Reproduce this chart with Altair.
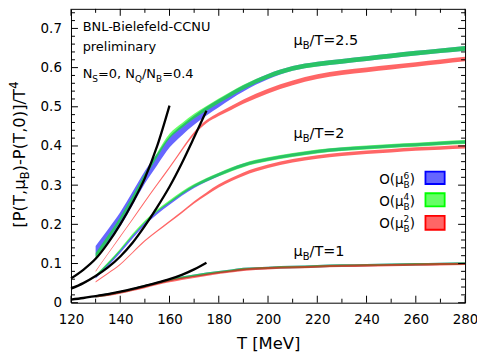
import altair as alt
import pandas as pd

FONT = "DejaVu Sans"

# ---------------- data ----------------
T = [130, 135, 140, 145, 150, 155, 160, 165, 170, 175, 180, 185, 190,
     200, 210, 220, 230, 240, 250, 260, 270, 280]

# mu_B/T = 2.5
o6_25 = [0.131, 0.171, 0.213, 0.266, 0.320, 0.366, 0.410, 0.440, 0.466, 0.489, 0.509, 0.529, 0.547,
         0.577, 0.598, 0.609, 0.616, 0.623, 0.630, 0.637, 0.643, 0.649]
o6_25_err = [0.014, 0.016, 0.018, 0.017, 0.016, 0.015, 0.014, 0.013, 0.012, 0.011, 0.010, 0.009, 0.008,
             0.007, 0.006, 0.006, 0.006, 0.006, 0.006, 0.006, 0.006, 0.006]
o4_25 = [0.119, 0.165, 0.213, 0.267, 0.324, 0.377, 0.425, 0.452, 0.476, 0.496, 0.515, 0.533, 0.550,
         0.578, 0.598, 0.609, 0.616, 0.623, 0.630, 0.637, 0.643, 0.649]
o4_25_err = [0.008, 0.007, 0.006, 0.006, 0.006, 0.006, 0.006, 0.006, 0.006, 0.006, 0.006, 0.006, 0.006,
             0.006, 0.006, 0.006, 0.006, 0.006, 0.006, 0.006, 0.006, 0.006]
o2_25 = [0.080, 0.125, 0.169, 0.213, 0.258, 0.302, 0.345, 0.390, 0.432, 0.462, 0.481, 0.497, 0.513,
         0.540, 0.561, 0.577, 0.587, 0.594, 0.601, 0.608, 0.615, 0.622]
o2_25_err = [0.0015, 0.0015, 0.0017, 0.002, 0.002, 0.0022, 0.0025, 0.003, 0.0035, 0.004, 0.0045, 0.005, 0.0055,
             0.006, 0.006, 0.006, 0.006, 0.006, 0.006, 0.006, 0.006, 0.006]

# mu_B/T = 2
o6_2 = [0.066, 0.097, 0.131, 0.168, 0.202, 0.230, 0.254, 0.277, 0.297, 0.313, 0.327, 0.340, 0.351,
        0.366, 0.377, 0.386, 0.392, 0.396, 0.400, 0.403, 0.407, 0.410]
o6_2_err = [0.004, 0.004, 0.004, 0.004, 0.004, 0.004, 0.004, 0.004, 0.004, 0.004, 0.004, 0.004, 0.004,
            0.004, 0.004, 0.004, 0.004, 0.004, 0.004, 0.004, 0.004, 0.004]
o4_2 = [0.068, 0.100, 0.135, 0.173, 0.207, 0.235, 0.258, 0.280, 0.299, 0.314, 0.327, 0.340, 0.351,
        0.366, 0.377, 0.386, 0.392, 0.396, 0.400, 0.403, 0.407, 0.410]
o4_2_err = [0.003, 0.003, 0.003, 0.003, 0.003, 0.003, 0.0035, 0.004, 0.004, 0.0045, 0.0045, 0.005, 0.005,
            0.005, 0.005, 0.005, 0.005, 0.005, 0.005, 0.005, 0.005, 0.005]
o2_2 = [0.053, 0.075, 0.098, 0.128, 0.158, 0.183, 0.207, 0.231, 0.256, 0.278, 0.298, 0.314, 0.328,
        0.348, 0.362, 0.372, 0.379, 0.384, 0.388, 0.392, 0.395, 0.398]
o2_2_err = [0.0015, 0.0015, 0.0015, 0.0017, 0.002, 0.002, 0.0022, 0.0025, 0.003, 0.0035, 0.004, 0.004, 0.0045,
            0.0045, 0.0045, 0.0045, 0.0045, 0.0045, 0.0045, 0.0045, 0.0045, 0.0045]

# mu_B/T = 1
o6_1 = [0.016, 0.021, 0.027, 0.034, 0.042, 0.050, 0.058, 0.064, 0.069, 0.074, 0.078, 0.082, 0.086,
        0.089, 0.091, 0.093, 0.095, 0.096, 0.097, 0.098, 0.099, 0.100]
o4_1 = [0.016, 0.021, 0.027, 0.034, 0.042, 0.050, 0.058, 0.064, 0.069, 0.074, 0.078, 0.082, 0.086,
        0.089, 0.091, 0.093, 0.095, 0.096, 0.097, 0.098, 0.099, 0.100]
o2_1 = [0.016, 0.020, 0.026, 0.033, 0.040, 0.048, 0.055, 0.061, 0.066, 0.071, 0.076, 0.080, 0.084,
        0.088, 0.090, 0.092, 0.094, 0.095, 0.096, 0.097, 0.098, 0.099]
err_1 = [0.003, 0.003, 0.003, 0.003, 0.003, 0.003, 0.003, 0.003, 0.003, 0.003, 0.003, 0.003, 0.003,
         0.003, 0.003, 0.003, 0.003, 0.003, 0.003, 0.003, 0.003, 0.003]

# black curves
T_hrg_a = [120, 125, 130, 135, 140, 145, 150, 155, 160]
hrg_25 = [0.062, 0.084, 0.112, 0.152, 0.200, 0.255, 0.318, 0.400, 0.503]
T_hrg_b = [120, 125, 130, 135, 140, 145, 150, 155, 160, 165, 170, 175]
hrg_2 = [0.036, 0.050, 0.068, 0.090, 0.118, 0.153, 0.196, 0.244, 0.296, 0.356, 0.422, 0.490]
hrg_1 = [0.008, 0.012, 0.017, 0.022, 0.028, 0.035, 0.043, 0.051, 0.060, 0.071, 0.085, 0.102]

x_major = [120, 140, 160, 180, 200, 220, 240, 260, 280]
x_minor = [130, 150, 170, 190, 210, 230, 250, 270]
y_major = [0.0, 0.1, 0.2, 0.3, 0.4, 0.5, 0.6, 0.7]
y_minor = [0.02, 0.04, 0.06, 0.08, 0.12, 0.14, 0.16, 0.18, 0.22, 0.24, 0.26, 0.28,
           0.32, 0.34, 0.36, 0.38, 0.42, 0.44, 0.46, 0.48, 0.52, 0.54, 0.56, 0.58,
           0.62, 0.64, 0.66, 0.68, 0.72, 0.74]

# ---------------- tables ----------------
def band_rows(order, mu, vals, errs):
    return [{"order": order, "mu": mu, "T": t, "lo": v - e, "hi": v + e}
            for t, v, e in zip(T, vals, errs)]

rows = []
rows += band_rows("O6", "2.5", o6_25, o6_25_err)
rows += band_rows("O6", "2", o6_2, o6_2_err)
rows += band_rows("O6", "1", o6_1, err_1)
rows += band_rows("O4", "2.5", o4_25, o4_25_err)
rows += band_rows("O4", "2", o4_2, o4_2_err)
rows += band_rows("O4", "1", o4_1, err_1)
rows += band_rows("O2", "2.5", o2_25, o2_25_err)
rows += band_rows("O2", "2", o2_2, o2_2_err)
rows += band_rows("O2", "1", o2_1, err_1)
bands = pd.DataFrame(rows)

hrg = pd.DataFrame(
    [{"mu": "2.5", "T": t, "v": v} for t, v in zip(T_hrg_a, hrg_25)]
    + [{"mu": "2", "T": t, "v": v} for t, v in zip(T_hrg_b, hrg_2)]
    + [{"mu": "1", "T": t, "v": v} for t, v in zip(T_hrg_b, hrg_1)]
)

W, H = 396, 295.3
xs = alt.Scale(domain=[120, 280], nice=False, zero=False)
ys = alt.Scale(domain=[0, 0.75], nice=False, zero=False)

x_axis = alt.Axis(values=x_major, title="", ticks=False, tickSize=0, domain=False, grid=False,
                  labelPadding=10, labelFlush=False, labelOverlap=False,
                  labelFont=FONT, labelFontSize=13.5, labelColor="black")
y_axis = alt.Axis(values=y_major, title="", ticks=False, tickSize=0, domain=False, grid=False,
                  labelPadding=9.6, labelFlush=False, labelOverlap=False, format=".1~f",
                  labelFont=FONT, labelFontSize=13.5, labelColor="black")

COLORS = {"O6": "#0000ff", "O4": "#00ff00", "O2": "#ff0000"}

layers = []
for order in ["O6", "O4", "O2"]:
    sub = bands[bands["order"] == order]
    layers.append(
        alt.Chart(sub).mark_area(color=COLORS[order], opacity=0.6, interpolate="monotone").encode(
            x=alt.X("T:Q", scale=xs, axis=x_axis),
            y=alt.Y("lo:Q", scale=ys, axis=y_axis),
            y2="hi:Q",
            detail="mu:N",
        )
    )

layers.append(
    alt.Chart(hrg).mark_line(color="black", strokeWidth=2.3, interpolate="monotone").encode(
        x=alt.X("T:Q", scale=xs, axis=x_axis),
        y=alt.Y("v:Q", scale=ys, axis=y_axis),
        detail="mu:N",
    )
)

# ticks (inward, mirrored)
def xticks(vals, length):
    d = pd.DataFrame({"T": vals})
    bot = alt.Chart(d).mark_rule(color="black", strokeWidth=1).encode(
        x=alt.X("T:Q", scale=xs, axis=x_axis), y=alt.value(H), y2=alt.value(H - length))
    top = alt.Chart(d).mark_rule(color="black", strokeWidth=1).encode(
        x=alt.X("T:Q", scale=xs, axis=x_axis), y=alt.value(0), y2=alt.value(length))
    return [bot, top]

def yticks(vals, length):
    d = pd.DataFrame({"lo": vals})
    left = alt.Chart(d).mark_rule(color="black", strokeWidth=1).encode(
        y=alt.Y("lo:Q", scale=ys, axis=y_axis), x=alt.value(0), x2=alt.value(length))
    right = alt.Chart(d).mark_rule(color="black", strokeWidth=1).encode(
        y=alt.Y("lo:Q", scale=ys, axis=y_axis), x=alt.value(W), x2=alt.value(W - length))
    return [left, right]

layers += xticks(x_major, 7) + xticks(x_minor, 4) + yticks(y_major, 7) + yticks(y_minor, 4)

# ---------------- text helpers ----------------
W_EM = {'[': 0.390, ']': 0.390, '(': 0.390, ')': 0.390, 'P': 0.603, 'T': 0.611, ',': 0.318,
        'μ': 0.636, 'B': 0.686, '-': 0.361, '/': 0.337, '=': 0.838, '.': 0.318, 'O': 0.787,
        'N': 0.748, 'S': 0.635, 'Q': 0.787, ' ': 0.318}
for dch in "0123456789":
    W_EM[dch] = 0.636


def tw(s, size):
    return sum(W_EM.get(c, 0.6) for c in s) * size


def text_layer(s, x, y, size, align="left", angle=None):
    kw = dict(text=s, align=align, baseline="alphabetic", font=FONT, fontSize=size, color="black")
    if angle is not None:
        kw["angle"] = angle
    return alt.Chart(alt.Data(values=[{}])).mark_text(**kw).encode(x=alt.value(x), y=alt.value(y))


def rich_h(pieces, x, y, size, small, sub_dy, sup_dy):
    out = []
    cx = x
    for txt, kind in pieces:
        if kind == "n":
            out.append(text_layer(txt, cx, y, size))
            cx += tw(txt, size)
        elif kind == "sub":
            out.append(text_layer(txt, cx, y + sub_dy, small))
            cx += tw(txt, small)
        elif kind == "sup":
            out.append(text_layer(txt, cx, y + sup_dy, small))
            cx += tw(txt, small)
        else:
            sb, sp = txt
            out.append(text_layer(sb, cx, y + sub_dy, small))
            out.append(text_layer(sp, cx, y + sup_dy, small))
            cx += max(tw(sb, small), tw(sp, small))
    return out


def rich_width(pieces, size, small):
    w = 0
    for txt, kind in pieces:
        if kind == "n":
            w += tw(txt, size)
        elif kind in ("sub", "sup"):
            w += tw(txt, small)
        else:
            w += max(tw(txt[0], small), tw(txt[1], small))
    return w


def rich_v(pieces, x, y, size, small, sub_dx, sup_dx):
    out = []
    cy = y
    for txt, kind in pieces:
        if kind == "n":
            out.append(text_layer(txt, x, cy, size, angle=270))
            cy -= tw(txt, size)
        elif kind == "sub":
            out.append(text_layer(txt, x + sub_dx, cy, small, angle=270))
            cy -= tw(txt, small)
        else:
            out.append(text_layer(txt, x + sup_dx, cy, small, angle=270))
            cy -= tw(txt, small)
    return out

# annotations
layers.append(text_layer("BNL-Bielefeld-CCNU", 11.7, 22, 13))
layers.append(text_layer("preliminary", 11.7, 42, 13))
layers += rich_h([("N", "n"), ("S", "sub"), ("=0, N", "n"), ("Q", "sub"), ("/N", "n"),
                  ("B", "sub"), ("=0.4", "n")], 11.7, 70, 13, 9, 3.5, -6)

for lab, yb in [("2.5", 36.3), ("2", 129.7), ("1", 248)]:
    layers += rich_h([("μ", "n"), ("B", "sub"), ("/T=" + lab, "n")], 223.7, yb, 14.5, 10, 4, -6)

# y-axis title
layers += rich_v([("[P(T,μ", "n"), ("B", "sub"), (")-P(T,0)]/T", "n"), ("4", "sup")],
                 -45.8, 220, 16.5, 11.5, 3.5, -7.5)
# x-axis title
layers.append(text_layer("T [MeV]", 198.7, 341.5, 16.5, align="center"))

# legend
leg = [("6", "#0000ff", 176.5, 163.5, 176.0),
       ("4", "#00ff00", 198.5, 185.3, 198.5),
       ("2", "#ff0000", 220.5, 208.0, 222.0)]
for power, col, yb, y1, y2 in leg:
    pcs = [("O(μ", "n"), (("B", power), "subsup"), (")", "n")]
    wdt = rich_width(pcs, 13.5, 9)
    layers += rich_h(pcs, 345.7 - wdt, yb, 13.5, 9, 3.5, -6)
    layers.append(
        alt.Chart(alt.Data(values=[{}])).mark_rect(fill=col, fillOpacity=0.6, stroke=col, strokeWidth=1.8).encode(
            x=alt.value(356.2), x2=alt.value(375.5), y=alt.value(y1), y2=alt.value(y2))
    )

chart = alt.layer(*layers).properties(
    width=W, height=H,
    padding={"left": 63.3, "top": 0, "right": 12, "bottom": 49},
    autosize=alt.AutoSizeParams(type="none"),
).configure_view(stroke="black", strokeWidth=1)

chart.save("out.html", embed_options={"renderer": "svg", "actions": False})
